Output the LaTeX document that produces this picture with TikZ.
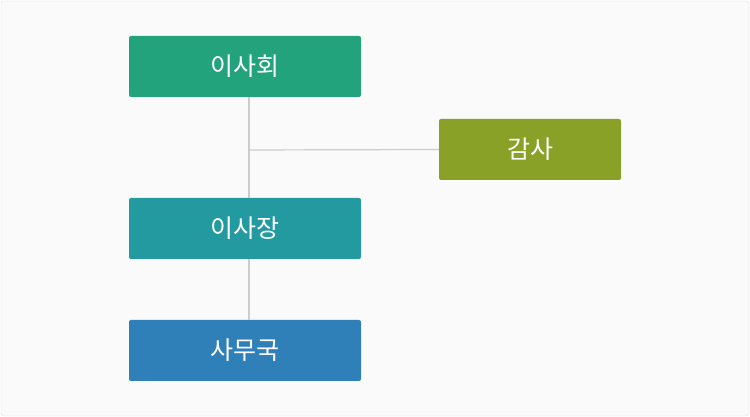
\documentclass[tikz,border=0pt]{standalone}
\usepackage{fontspec}
\setmainfont{Noto Sans CJK KR}
\begin{document}
\begin{tikzpicture}[x=1pt,y=1pt,
  box/.style={minimum height=61pt,inner sep=0pt,rounded corners=2pt,text=white,font=\fontsize{25}{28}\selectfont},
  conn/.style={draw=black!20,line width=1.2pt}]
\useasboundingbox (0,0) rectangle (750,417);
\draw[fill=black!2,draw=black!13,rounded corners=3pt] (1,1) rectangle (749,416);
\definecolor{cA}{HTML}{23A37B}
\definecolor{cB}{HTML}{8AA127}
\definecolor{cC}{HTML}{2399A0}
\definecolor{cD}{HTML}{2F7FB8}
\node[box,fill=cA,minimum width=232pt] (board) at (245,350.5) {이사회};
\node[box,fill=cB,minimum width=182pt] (audit) at (530,267.5) {감사};
\node[box,fill=cC,minimum width=232pt] (chair) at (245,188.5) {이사장};
\node[box,fill=cD,minimum width=232pt] (office) at (245,66.5) {사무국};
\coordinate (j) at (249,267);
\draw[conn] (board.south -| j) -- (chair.north -| j);
\draw[conn] (chair.south -| j) -- (office.north -| j);
\draw[conn] (j) -- (audit.west);
\end{tikzpicture}
\end{document}
